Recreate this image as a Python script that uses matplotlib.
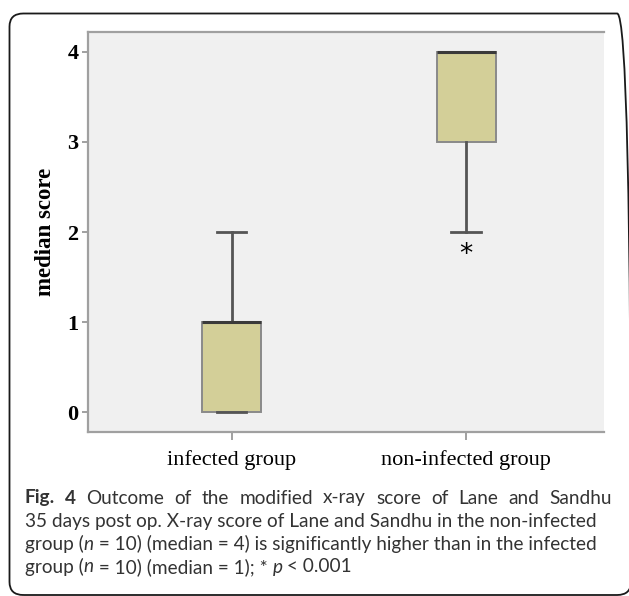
import matplotlib
matplotlib.use("Agg")
import matplotlib.pyplot as plt
from matplotlib.patches import FancyBboxPatch

# ---- data ----
categories = ["infected group", "non-infected group"]
q1 = [0, 3]
median = [1, 4]
q3 = [1, 4]
whisker_low = [0, 2]
whisker_high = [2, 4]
star_y = [None, 1.75]          # extreme-value marker (*) of non-infected group
y_ticks = [0, 1, 2, 3, 4]
y_label = "median score"

W, H = 629, 596
fig = plt.figure(figsize=(W / 100, H / 100), dpi=100)
fig.patch.set_facecolor("white")

# axes placement in pixels
ax_l, ax_r, ax_t, ax_b = 88, 604, 32, 432
ax = fig.add_axes([ax_l / W, 1 - ax_b / H, (ax_r - ax_l) / W, (ax_b - ax_t) / H])
ax.set_facecolor("#f0f0f0")

positions = [1, 2]
stats = []
for i in range(len(categories)):
    stats.append(dict(med=median[i], q1=q1[i], q3=q3[i], whislo=whisker_low[i],
                      whishi=whisker_high[i], fliers=[], label=categories[i]))

ax.bxp(stats, positions=positions, widths=0.252, patch_artist=True,
       showfliers=False,
       boxprops=dict(facecolor="#d3cf98", edgecolor="#8a8a8a", linewidth=1.4),
       medianprops=dict(color="#3a3a3a", linewidth=2.2),
       whiskerprops=dict(color="#555555", linewidth=2.0),
       capprops=dict(color="#555555", linewidth=2.0),
       capwidths=0.125)

for p, s in zip(positions, star_y):
    if s is not None:
        ax.text(p, s, "*", ha="center", va="center", fontsize=19,
                family="DejaVu Sans", color="black")

ax.set_xlim(0.388, 2.588)
ax.set_ylim(-0.222, 4.222)
ax.set_yticks(y_ticks)
ax.set_yticklabels([str(v) for v in y_ticks], family="Liberation Serif",
                   fontsize=16, fontweight="bold")
ax.set_xticks(positions)
ax.set_xticklabels(categories, family="Liberation Serif", fontsize=16)
ax.tick_params(axis="both", colors="#909090", labelcolor="black", width=1.2,
               length=4)
ax.tick_params(axis="x", length=6, pad=7)
ax.tick_params(axis="y", pad=3)
for side in ["top", "bottom", "left"]:
    ax.spines[side].set_color("#a0a0a0")
    ax.spines[side].set_linewidth(1.6)
ax.spines["right"].set_visible(False)
ax.set_ylabel(y_label, family="Liberation Serif", fontsize=16.5,
              fontweight="bold", labelpad=8)

# ---- outer rounded frame ----
frame = FancyBboxPatch((9.5 / W, 1 - 595 / H), (631 - 9.5) / W, (595 - 13.5) / H,
                       boxstyle="round,pad=0,rounding_size=0.022",
                       transform=fig.transFigure, fill=False,
                       edgecolor="#1a1a1a", linewidth=1.3, clip_on=False)
fig.add_artist(frame)

# ---- caption ----
cap_color = "#333333"
cap_font = "Lato"
cap_weight = "normal"
renderer = fig.canvas.get_renderer()
cap = {"size": 13.0}

def width_px(s, weight=cap_weight, style="normal"):
    t = fig.text(0, 0, "|" + s + "|", fontsize=cap["size"], family=cap_font,
                 fontweight=weight, fontstyle=style)
    w1 = t.get_window_extent(renderer).width
    t.remove()
    t = fig.text(0, 0, "||", fontsize=cap["size"], family=cap_font,
                 fontweight=weight, fontstyle=style)
    w0 = t.get_window_extent(renderer).width
    t.remove()
    return w1 - w0

def put(x, y, s, weight=cap_weight, style="normal"):
    fig.text(x / W, 1 - y / H, s, fontsize=cap["size"], family=cap_font,
             fontweight=weight, fontstyle=style, color=cap_color,
             ha="left", va="center")

def draw_runs(x0, y, runs):
    x = x0
    for s, wt, st in runs:
        put(x, y, s, wt, st)
        x += width_px(s, wt, st)

x0 = 25
line2 = "35 days post op. X-ray score of Lane and Sandhu in the non-infected"
# fit font size so line 2 spans to ~597 px
cap["size"] = cap["size"] * (597 - x0) / width_px(line2)

# line 1 justified
words1 = [("Fig.", "bold"), ("4", "bold")] + [(w, cap_weight) for w in
          "Outcome of the modified x-ray score of Lane and Sandhu".split()]
target = 612
ws = [width_px(w, wt) for w, wt in words1]
gap = (target - x0 - sum(ws)) / (len(words1) - 1)
x = x0
for (w, wt), wd in zip(words1, ws):
    put(x, 498, w, wt)
    x += wd + gap

draw_runs(x0, 521, [(line2, cap_weight, "normal")])
draw_runs(x0, 544, [("group (", cap_weight, "normal"), ("n", cap_weight, "italic"),
                    (" = 10) (median = 4) is significantly higher than in the infected", cap_weight, "normal")])
draw_runs(x0, 567, [("group (", cap_weight, "normal"), ("n", cap_weight, "italic"),
                    (" = 10) (median = 1); * ", cap_weight, "normal"), ("p", cap_weight, "italic"),
                    (" < 0.001", cap_weight, "normal")])

fig.savefig("out.png", dpi=100)
